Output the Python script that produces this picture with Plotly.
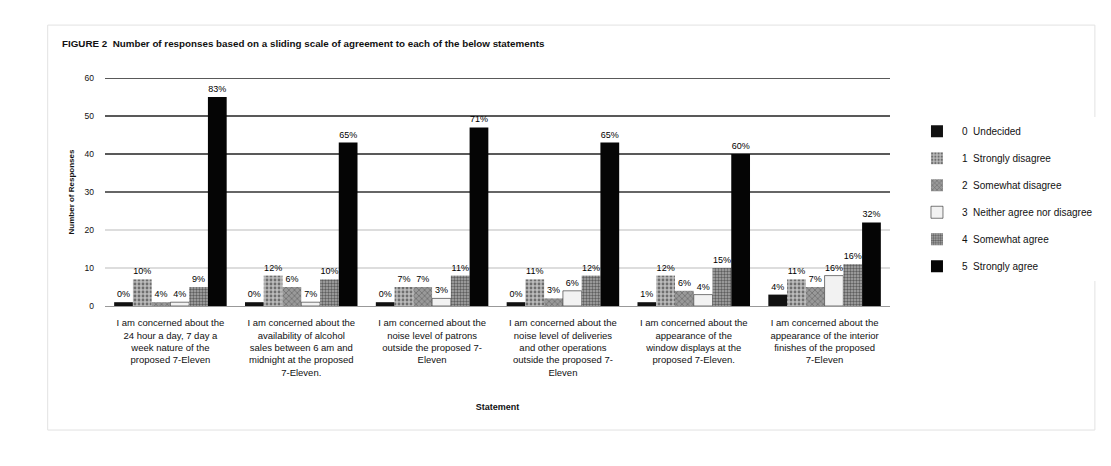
import plotly.graph_objects as go

categories = [
    "I am concerned about the<br>24 hour a day, 7 day a<br>week nature of the<br>proposed 7-Eleven",
    "I am concerned about the<br>availability of alcohol<br>sales between 6 am and<br>midnight at the proposed<br>7-Eleven.",
    "I am concerned about the<br>noise level of patrons<br>outside the proposed 7-<br>Eleven",
    "I am concerned about the<br>noise level of deliveries<br>and other operations<br>outside the proposed 7-<br>Eleven",
    "I am concerned about the<br>appearance of the<br>window displays at the<br>proposed 7-Eleven.",
    "I am concerned about the<br>appearance of the interior<br>finishes of the proposed<br>7-Eleven",
]

series_names = [
    "0  Undecided",
    "1  Strongly disagree",
    "2  Somewhat disagree",
    "3  Neither agree nor disagree",
    "4  Somewhat agree",
    "5  Strongly agree",
]

undecided = [1, 1, 1, 1, 1, 3]
strongly_disagree = [7, 8, 5, 7, 8, 7]
somewhat_disagree = [1, 5, 5, 2, 4, 5]
neither = [1, 1, 2, 4, 3, 8]
somewhat_agree = [5, 7, 8, 8, 10, 11]
strongly_agree = [55, 43, 47, 43, 40, 22]

undecided_lbl = ["0%", "0%", "0%", "0%", "1%", "4%"]
strongly_disagree_lbl = ["10%", "12%", "7%", "11%", "12%", "11%"]
somewhat_disagree_lbl = ["4%", "6%", "7%", "3%", "6%", "7%"]
neither_lbl = ["4%", "7%", "3%", "6%", "4%", "16%"]
somewhat_agree_lbl = ["9%", "10%", "11%", "12%", "15%", "16%"]
strongly_agree_lbl = ["83%", "65%", "71%", "65%", "60%", "32%"]

values = [undecided, strongly_disagree, somewhat_disagree, neither, somewhat_agree, strongly_agree]
labels = [undecided_lbl, strongly_disagree_lbl, somewhat_disagree_lbl, neither_lbl, somewhat_agree_lbl, strongly_agree_lbl]

styles = [
    dict(color="#111111", pattern=dict(shape="")),
    dict(color="#bbbbbb", pattern=dict(shape=".", fgcolor="#222222", size=4, solidity=0.4)),
    dict(color="#999999", pattern=dict(shape="x", fgcolor="#333333", size=4, solidity=0.3)),
    dict(color="#f2f2f2", pattern=dict(shape="")),
    dict(color="#aaaaaa", pattern=dict(shape=".", fgcolor="#111111", size=3, solidity=0.5)),
    dict(color="#050505", pattern=dict(shape="")),
]

fig = go.Figure()
for i, (name, v, t, st) in enumerate(zip(series_names, values, labels, styles)):
    fig.add_trace(go.Bar(
        x=categories, y=v, name=name, text=t,
        textposition="outside", cliponaxis=False,
        textfont=dict(size=9, color="#000000", family="Liberation Sans"),
        marker=dict(color=st["color"], pattern=st["pattern"],
                    line=dict(color="#222222", width=0.6 if i == 3 else 0)),
        legendgroup=str(i),
    ))

shapes = []
for yv, col, w in [(10, "#bbbbbb", 1), (20, "#bbbbbb", 1), (30, "#333333", 1.5),
                   (40, "#222222", 1.5), (50, "#222222", 1.5), (60, "#222222", 1.5)]:
    shapes.append(dict(type="line", xref="paper", yref="y", x0=0, x1=1, y0=yv, y1=yv,
                       line=dict(color=col, width=w), layer="below"))
shapes.append(dict(type="rect", xref="paper", yref="paper", x0=-0.073, x1=1.261, y0=-0.544, y1=1.232,
                   line=dict(color="#e2e2e2", width=1), layer="below"))

fig.update_layout(
    width=1111, height=466,
    margin=dict(l=105, r=221, t=78, b=160),
    paper_bgcolor="white", plot_bgcolor="white",
    font=dict(family="Liberation Sans", size=9, color="#111111"),
    barmode="group", bargap=0.14, bargroupgap=0.0,
    title=dict(text="<b>FIGURE 2</b>  <b>Number of responses based on a sliding scale of agreement to each of the below statements</b>",
               x=62 / 1111, xanchor="left", y=1 - 44 / 466, yanchor="middle",
               font=dict(size=9.8, color="#111111")),
    showlegend=True,
    legend=dict(x=1.028, xanchor="left", y=0.83, yanchor="top",
                font=dict(size=10, color="#111111"), tracegroupgap=8,
                itemwidth=40),
    shapes=shapes,
)
fig.update_xaxes(
    title=dict(text="<b>Statement</b>", font=dict(size=9), standoff=26),
    tickfont=dict(size=9.5), showline=True, linecolor="#999999", linewidth=1,
    ticks="", showgrid=False, ticklabelstandoff=8,
)
fig.update_yaxes(
    title=dict(text="<b>Number of Responses</b>", font=dict(size=8), standoff=8),
    range=[0, 60], tickvals=[0, 10, 20, 30, 40, 50, 60],
    tickfont=dict(size=8.5), showgrid=False, zeroline=False, showline=False,
    ticks="", ticklabelstandoff=10,
)

fig.write_html("out.html")
